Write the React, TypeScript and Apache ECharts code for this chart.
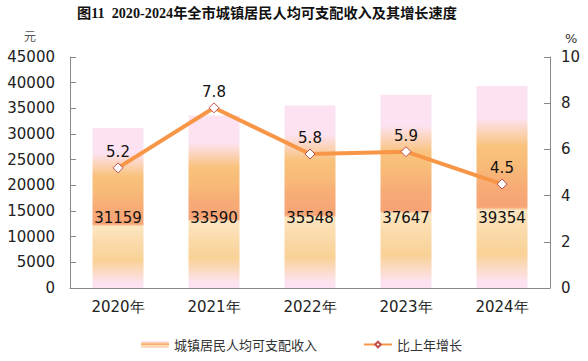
import React, { useEffect, useRef } from "react";
import * as echarts from "echarts";

const categories = ["2020年", "2021年", "2022年", "2023年", "2024年"];
const incomeValues = [31159, 33590, 35548, 37647, 39354];
const growthValues = [5.2, 7.8, 5.8, 5.9, 4.5];
const leftTicks = { min: 0, max: 45000, interval: 5000 };
const rightTicks = { min: 0, max: 10, interval: 2 };

const barGradient = new echarts.graphic.LinearGradient(0, 0, 0, 1, [
  { offset: 0, color: "#fde3f1" },
  { offset: 0.16, color: "#fde3f1" },
  { offset: 0.3, color: "#f9c27c" },
  { offset: 0.4, color: "#f8ba78" },
  { offset: 0.5, color: "#f7ab76" },
  { offset: 0.6, color: "#f6a476" },
  { offset: 0.615, color: "#fce6c0" },
  { offset: 0.7, color: "#fbdcae" },
  { offset: 0.83, color: "#f9d196" },
  { offset: 0.97, color: "#fde3f1" },
  { offset: 1, color: "#fde3f1" },
]);

export default function App() {
  const ref = useRef<HTMLDivElement>(null);
  useEffect(() => {
    document.body.style.margin = "0";
    if (!ref.current) return;
    const chart = echarts.init(ref.current, null, { renderer: "svg" });
    const font = "'DejaVu Sans', sans-serif";
    chart.setOption({
      animation: false,
      backgroundColor: "#ffffff",
      title: {
        text: "图11  2020-2024年全市城镇居民人均可支配收入及其增长速度",
        left: 77,
        top: 6,
        padding: 0,
        textStyle: {
          fontSize: 14.2,
          fontWeight: "bold",
          color: "#111",
          fontFamily: "'Liberation Serif', 'Noto Sans CJK SC', serif",
        },
      },
      graphic: [
        {
          type: "text",
          left: 24,
          top: 29,
          style: { text: "元", fontSize: 12, fill: "#555", fontFamily: "'Noto Sans CJK SC', sans-serif" },
        },
        {
          type: "text",
          left: 565,
          top: 32,
          style: { text: "%", fontSize: 13, fill: "#333", fontFamily: font },
        },
      ],
      legend: {
        bottom: 10,
        left: 141,
        padding: 0,
        itemGap: 46,
        itemWidth: 28,
        itemHeight: 7,
        textStyle: { fontSize: 13, color: "#333", fontFamily: "'Noto Sans CJK SC', sans-serif" },
        data: [
          { name: "城镇居民人均可支配收入" },
          { name: "比上年增长" },
        ],
      },
      grid: { left: 70, right: 38, top: 57, bottom: 73 },
      xAxis: {
        type: "category",
        data: categories,
        axisLine: { lineStyle: { color: "#888", width: 1 } },
        axisTick: { show: false },
        axisLabel: { fontSize: 15, color: "#222", margin: 11, fontFamily: font },
      },
      yAxis: [
        {
          type: "value",
          min: leftTicks.min,
          max: leftTicks.max,
          interval: leftTicks.interval,
          axisLine: { show: true, lineStyle: { color: "#888" } },
          axisTick: { show: true, inside: true, length: 6, lineStyle: { color: "#888" } },
          splitLine: { show: false },
          axisLabel: {
            fontSize: 15,
            color: "#222",
            margin: 15,
            fontFamily: font,
            formatter: (v: number) => String(v),
          },
        },
        {
          type: "value",
          min: rightTicks.min,
          max: rightTicks.max,
          interval: rightTicks.interval,
          position: "right",
          axisLine: { show: true, lineStyle: { color: "#888" } },
          axisTick: { show: true, inside: true, length: 6, lineStyle: { color: "#888" } },
          splitLine: { show: false },
          axisLabel: { fontSize: 15, color: "#222", margin: 11, fontFamily: font },
        },
      ],
      series: [
        {
          name: "城镇居民人均可支配收入",
          type: "bar",
          data: incomeValues,
          barWidth: 51,
          itemStyle: { color: barGradient },
          label: {
            show: true,
            position: "insideBottom",
            distance: 63,
            fontSize: 15,
            color: "#111",
            fontFamily: font,
          },
        },
        {
          name: "比上年增长",
          type: "line",
          yAxisIndex: 1,
          data: growthValues,
          symbol: "diamond",
          symbolSize: 10,
          lineStyle: { color: "#f79646", width: 4 },
          itemStyle: { color: "#ffffff", borderColor: "#c0504d", borderWidth: 1 },
          label: {
            show: true,
            position: "top",
            distance: 3,
            fontSize: 15,
            color: "#111",
            fontFamily: font,
          },
          z: 5,
        },
      ],
    });
    return () => chart.dispose();
  }, []);
  return <div ref={ref} style={{ width: 588, height: 361 }} />;
}
